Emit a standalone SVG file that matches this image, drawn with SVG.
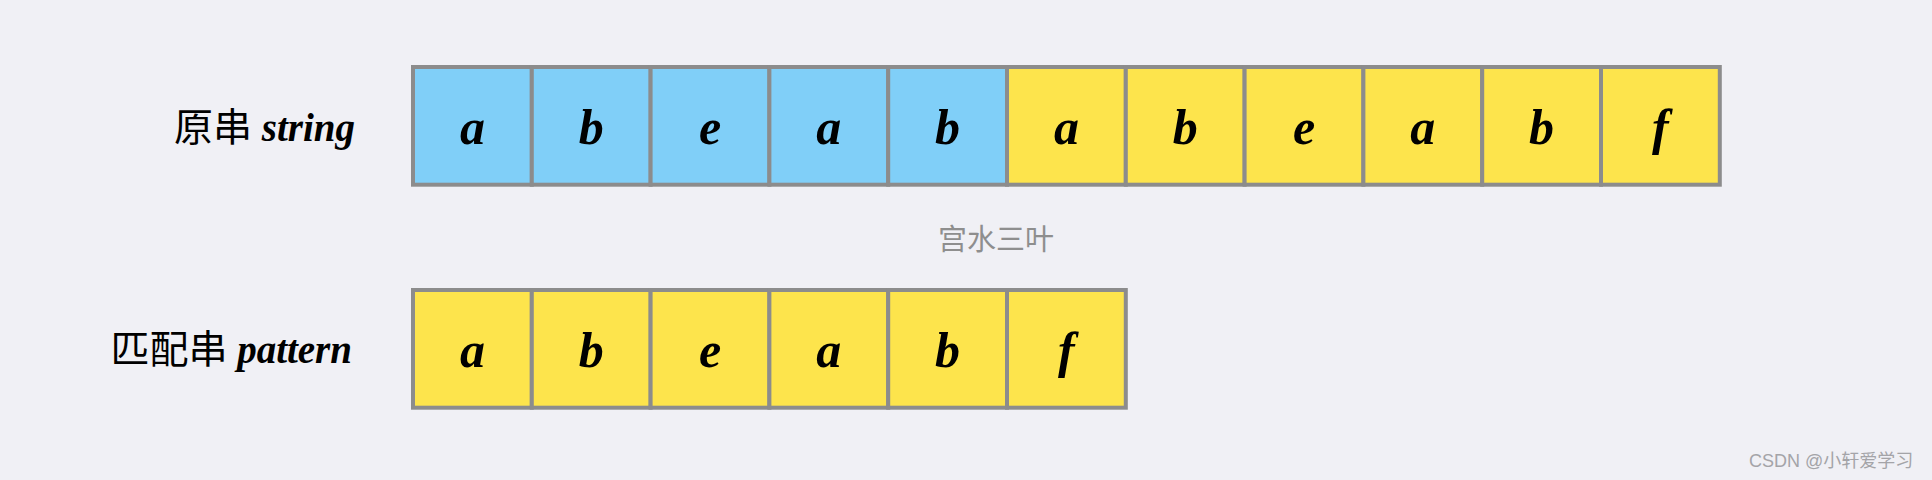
<svg xmlns="http://www.w3.org/2000/svg" width="1932" height="480" viewBox="0 0 1932 480">
<style>
.bg{fill:#F0F0F5}
.cell{stroke:#8C8C8C;stroke-width:4}
.blue{fill:#80CFF8}
.yellow{fill:#FDE44C}
.ch{font-family:"Liberation Serif","Times New Roman",serif;font-style:italic;font-weight:bold;font-size:50px;fill:#000;text-anchor:middle}
.label{font-family:"Liberation Serif","Noto Sans CJK SC",serif;font-size:39px;fill:#000;text-anchor:end}
.lat{font-style:italic;font-weight:bold}
.wm{font-family:"Liberation Serif","Noto Sans CJK SC",serif;font-size:29px;fill:#8E8E8E;text-anchor:middle}
.csdn{font-family:"Liberation Sans","Noto Sans CJK SC",sans-serif;font-size:18px;fill:#A4A4A8}
</style>
<rect class="bg" x="0" y="0" width="1932" height="480"/>
<g id="label-string"><text class="label" x="355" y="141">原串 <tspan class="lat">string</tspan></text></g>
<g id="label-pattern"><text class="label" x="352" y="363">匹配串 <tspan class="lat">pattern</tspan></text></g>
<g id="string">
<g id="s0"><rect class="cell blue" x="413" y="67" width="118.8" height="117.7"/><text class="ch" x="472.4" y="144.3">a</text></g>
<g id="s1"><rect class="cell blue" x="531.8" y="67" width="118.8" height="117.7"/><text class="ch" x="591.2" y="144.3">b</text></g>
<g id="s2"><rect class="cell blue" x="650.6" y="67" width="118.8" height="117.7"/><text class="ch" x="710" y="144.3">e</text></g>
<g id="s3"><rect class="cell blue" x="769.4" y="67" width="118.8" height="117.7"/><text class="ch" x="828.8" y="144.3">a</text></g>
<g id="s4"><rect class="cell blue" x="888.2" y="67" width="118.8" height="117.7"/><text class="ch" x="947.6" y="144.3">b</text></g>
<g id="s5"><rect class="cell yellow" x="1007" y="67" width="118.8" height="117.7"/><text class="ch" x="1066.4" y="144.3">a</text></g>
<g id="s6"><rect class="cell yellow" x="1125.8" y="67" width="118.8" height="117.7"/><text class="ch" x="1185.2" y="144.3">b</text></g>
<g id="s7"><rect class="cell yellow" x="1244.6" y="67" width="118.8" height="117.7"/><text class="ch" x="1304" y="144.3">e</text></g>
<g id="s8"><rect class="cell yellow" x="1363.4" y="67" width="118.8" height="117.7"/><text class="ch" x="1422.8" y="144.3">a</text></g>
<g id="s9"><rect class="cell yellow" x="1482.2" y="67" width="118.8" height="117.7"/><text class="ch" x="1541.6" y="144.3">b</text></g>
<g id="s10"><rect class="cell yellow" x="1601" y="67" width="118.8" height="117.7"/><text class="ch" x="1660.4" y="144.3">f</text></g>
</g>
<g id="pattern">
<g id="p0"><rect class="cell yellow" x="413" y="290" width="118.8" height="117.7"/><text class="ch" x="472.4" y="367.3">a</text></g>
<g id="p1"><rect class="cell yellow" x="531.8" y="290" width="118.8" height="117.7"/><text class="ch" x="591.2" y="367.3">b</text></g>
<g id="p2"><rect class="cell yellow" x="650.6" y="290" width="118.8" height="117.7"/><text class="ch" x="710" y="367.3">e</text></g>
<g id="p3"><rect class="cell yellow" x="769.4" y="290" width="118.8" height="117.7"/><text class="ch" x="828.8" y="367.3">a</text></g>
<g id="p4"><rect class="cell yellow" x="888.2" y="290" width="118.8" height="117.7"/><text class="ch" x="947.6" y="367.3">b</text></g>
<g id="p5"><rect class="cell yellow" x="1007" y="290" width="118.8" height="117.7"/><text class="ch" x="1066.4" y="367.3">f</text></g>
</g>
<g id="watermark"><text class="wm" x="996" y="250">宫水三叶</text></g>
<g id="csdn"><text class="csdn" x="1749" y="467">CSDN @小轩爱学习</text></g>
</svg>
